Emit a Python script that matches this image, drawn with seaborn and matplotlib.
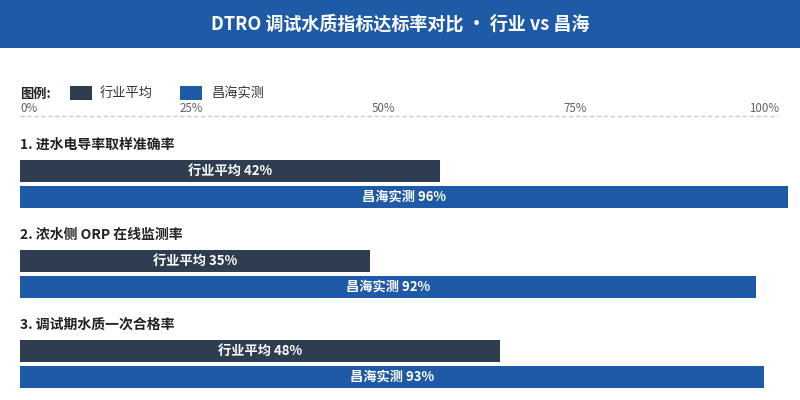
import matplotlib
matplotlib.use("Agg")
import matplotlib.pyplot as plt
from matplotlib.patches import Rectangle
from matplotlib.lines import Line2D
import pandas as pd
import seaborn as sns

# ---------------- data ----------------
title = "DTRO 调试水质指标达标率对比 · 行业 vs 昌海"
metrics = ["1. 进水电导率取样准确率", "2. 浓水侧 ORP 在线监测率", "3. 调试期水质一次合格率"]
series = ["行业平均", "昌海实测"]
industry = [42, 35, 48]
changhai = [96, 92, 93]
tick_labels = ["0%", "25%", "50%", "75%", "100%"]

# ---------------- style ----------------
sns.set_theme(style="white")
plt.rcParams["font.family"] = ["Noto Sans CJK SC", "DejaVu Sans"]

BLUE = "#1f5aa7"
DARK = "#2e3e50"
TXT = "#222222"
GRAY = "#5a6270"

W, H = 800, 400
fig = plt.figure(figsize=(8, 4), dpi=100)
fig.patch.set_facecolor("white")


def fx(px):
    return px / W


def fy(py):
    return 1 - py / H


# title bar
fig.add_artist(Rectangle((0, fy(48)), 1, 48 / H, transform=fig.transFigure,
                         facecolor=BLUE, edgecolor="none", zorder=0))
fig.text(0.5, fy(24), title, ha="center", va="center", color="white",
         fontsize=13, fontweight="bold")

# legend
fig.text(fx(20), fy(94), "图例:", ha="left", va="center", color=TXT,
         fontsize=9.5, fontweight="bold")
for sx, tx, col, name in [(70, 100, DARK, series[0]), (180, 211, BLUE, series[1])]:
    fig.add_artist(Rectangle((fx(sx), fy(100)), 22 / W, 14 / H,
                             transform=fig.transFigure, facecolor=col,
                             edgecolor="none"))
    fig.text(fx(tx), fy(93), name, ha="left", va="center", color="#333333",
             fontsize=9.5)

# scale labels and dashed rule
tick_pos = [(20, "left"), (191, "center"), (383, "center"), (575, "center"), (779, "right")]
for lab, (px, ha) in zip(tick_labels, tick_pos):
    fig.text(fx(px), fy(108), lab, ha=ha, va="center", color=GRAY, fontsize=8.3)
fig.add_artist(Line2D([fx(20), fx(778)], [fy(116), fy(116)], transform=fig.transFigure,
                      color="#c8c8c8", linewidth=1, linestyle=(0, (3, 2))))

# group titles
for i, m in enumerate(metrics):
    fig.text(fx(20), fy(145 + 90 * i), m, ha="left", va="center", color=TXT,
             fontsize=10, fontweight="bold")

# bars: two overlaid axes (one per series)
rect = [fx(20), fy(400), 800 / W, 270 / H]
ax_ind = fig.add_axes(rect)
ax_ch = fig.add_axes(rect)

df_ind = pd.DataFrame({"metric": metrics, "value": industry})
df_ch = pd.DataFrame({"metric": metrics, "value": changhai})

bw = 22 / 90
sns.barplot(data=df_ind, y="metric", x="value", orient="h", color=DARK,
            saturation=1, width=bw, linewidth=0, ax=ax_ind)
sns.barplot(data=df_ch, y="metric", x="value", orient="h", color=BLUE,
            saturation=1, width=bw, linewidth=0, ax=ax_ch)

ax_ind.set_xlim(0, 80)
ax_ch.set_xlim(0, 100)
ax_ind.set_ylim((400 - 171) / 90, (130 - 171) / 90)
ax_ch.set_ylim((400 - 197) / 90, (130 - 197) / 90)

ax_ind.bar_label(ax_ind.containers[0], labels=[f"{series[0]} {v}%" for v in industry],
                 label_type="center", color="white", fontsize=9.5, fontweight="bold")
ax_ch.bar_label(ax_ch.containers[0], labels=[f"{series[1]} {v}%" for v in changhai],
                label_type="center", color="white", fontsize=9.5, fontweight="bold")

for ax in (ax_ind, ax_ch):
    ax.set_axis_off()
    ax.patch.set_alpha(0)

fig.savefig("out.png", dpi=100)
